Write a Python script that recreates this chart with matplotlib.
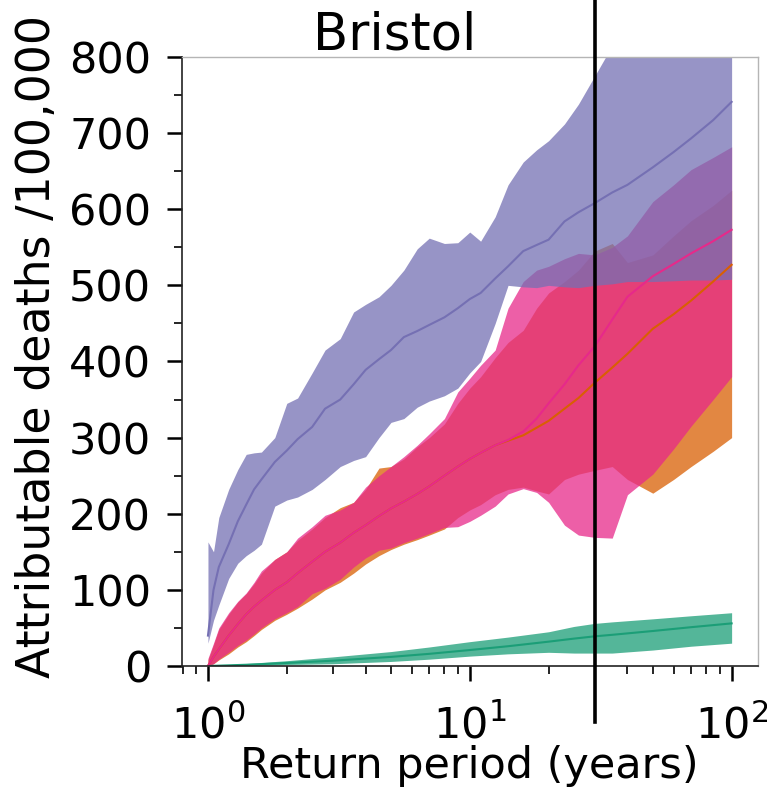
import numpy as np
import matplotlib
matplotlib.use("Agg")
import matplotlib.pyplot as plt

# return periods (years) shared by the three wide bands
return_period = [1.0, 1.05, 1.1, 1.2, 1.3, 1.4, 1.5, 1.6, 1.8, 2.0,
                 2.2, 2.5, 2.8, 3.2, 3.6, 4.0, 4.5, 5, 5.6, 6.3,
                 7, 8, 9, 10, 11, 12.5, 14, 16, 18, 20,
                 23, 26, 30, 35, 40, 50, 60, 70, 85, 100]

purple_hi = [163, 150, 195, 232, 258, 278, 280, 281, 300, 345,
             352, 385, 415, 430, 465, 475, 485, 500, 520, 548,
             562, 555, 556, 570, 558, 590, 632, 662, 678, 690,
             712, 738, 775, 815, 845, 880, 905, 925, 950, 970]
purple_mid = [40, 100, 130, 160, 190, 212, 232, 245, 268, 283,
              298, 314, 338, 350, 370, 389, 403, 415, 432, 440,
              448, 458, 470, 482, 490, 509, 525, 545, 553, 560,
              584, 596, 608, 622, 632, 655, 675, 693, 717, 741]
purple_lo = [30, 60, 80, 115, 135, 145, 152, 160, 210, 218,
             222, 232, 245, 262, 270, 275, 300, 320, 325, 340,
             348, 355, 365, 385, 400, 450, 500, 498, 497, 500,
             498, 497, 500, 502, 505, 505, 506, 507, 507, 508]

pink_hi = [10, 30, 50, 70, 85, 96, 110, 125, 140, 150,
           168, 183, 198, 205, 215, 235, 250, 262, 275, 290,
           305, 325, 360, 378, 395, 415, 470, 505, 520, 525,
           535, 542, 540, 550, 565, 610, 632, 652, 668, 682]
pink_mid = [0, 12, 22, 40, 55, 68, 78, 86, 100, 110,
            122, 137, 150, 162, 175, 185, 197, 207, 216, 226,
            236, 250, 262, 272, 280, 290, 297, 308, 325, 345,
            370, 395, 420, 455, 485, 512, 528, 542, 558, 573]
pink_lo = [0, 3, 9, 18, 27, 34, 42, 50, 62, 70,
           78, 95, 102, 114, 130, 142, 152, 155, 162, 168,
           174, 182, 183, 190, 198, 210, 226, 233, 228, 215,
           185, 172, 169, 168, 225, 252, 285, 315, 350, 380]

orange_hi = [8, 28, 48, 68, 84, 95, 108, 122, 140, 150,
             165, 180, 195, 208, 215, 232, 260, 262, 272, 288,
             300, 318, 345, 365, 380, 405, 425, 441, 470, 490,
             505, 520, 545, 555, 530, 540, 565, 585, 605, 625]
orange_mid = [0, 12, 22, 40, 55, 68, 78, 86, 100, 110,
              122, 137, 150, 162, 175, 185, 197, 207, 216, 226,
              236, 250, 262, 272, 280, 290, 296, 303, 313, 322,
              338, 352, 372, 392, 410, 443, 462, 480, 505, 527]
orange_lo = [0, 3, 8, 16, 25, 32, 40, 48, 60, 68,
             76, 88, 100, 110, 122, 134, 145, 153, 160, 166,
             172, 180, 195, 205, 212, 225, 232, 235, 230, 226,
             245, 252, 257, 262, 245, 227, 245, 262, 282, 300]

green_rp = [1, 1.5, 2, 3, 5, 7, 10, 14, 20, 25, 30, 35, 50, 70, 100]
green_hi = [0, 4, 7, 12, 19, 25, 32, 38, 45, 52, 56, 58, 62, 66, 70]
green_mid = [0, 2, 4, 7, 12, 16, 21, 26, 32, 36, 39, 41, 46, 51, 56]
green_lo = [0, 1, 2, 3, 6, 9, 13, 16, 18, 17, 17, 17, 21, 26, 30]

marker_period = 30

colors = {'green': '#1b9e77', 'orange': '#d95f02',
          'purple': '#7570b3', 'pink': '#e7298a'}

fig = plt.figure(figsize=(7.67, 7.91), dpi=100)
ax = fig.add_axes([0.237, 0.158, 0.751, 0.770])
ax.set_xscale('log')

bands = [
    (green_rp, green_lo, green_mid, green_hi, colors['green']),
    (return_period, orange_lo, orange_mid, orange_hi, colors['orange']),
    (return_period, pink_lo, pink_mid, pink_hi, colors['pink']),
    (return_period, purple_lo, purple_mid, purple_hi, colors['purple']),
]
for x, lo, mid, hi, c in bands:
    ax.fill_between(x, lo, hi, color=c, alpha=0.75, lw=0)
for x, lo, mid, hi, c in bands:
    ax.plot(x, mid, color=c, lw=1.5)

ax.plot([marker_period, marker_period], [-74, 880], color='k', lw=2.6,
        clip_on=False, zorder=5)

ax.set_xlim(10 ** -0.1, 10 ** 2.1)
ax.set_ylim(0, 800)
ax.set_yticks(np.arange(0, 801, 100))
ax.set_yticks(np.arange(50, 800, 100), minor=True)

ax.tick_params(which='major', length=11, width=1.8, labelsize=31)
ax.tick_params(axis='y', which='major', pad=11)
ax.tick_params(axis='x', which='major', pad=17)
ax.tick_params(which='minor', length=5.5, width=1.2)
for side in ['left', 'bottom']:
    ax.spines[side].set_color('#222222')
    ax.spines[side].set_linewidth(1.2)
for side in ['top', 'right']:
    ax.spines[side].set_color('#b5b5b5')
    ax.spines[side].set_linewidth(1.0)

ax.set_xlabel('Return period (years)', fontsize=31, labelpad=-2)
ax.set_ylabel('Attributable deaths /100,000', fontsize=33)
ax.yaxis.set_label_coords(-0.212, 0.525)

fig.text(395 / 767, 1 - 50 / 791, 'Bristol', ha='center', va='baseline',
         fontsize=37)

fig.savefig('out.png', dpi=100)
